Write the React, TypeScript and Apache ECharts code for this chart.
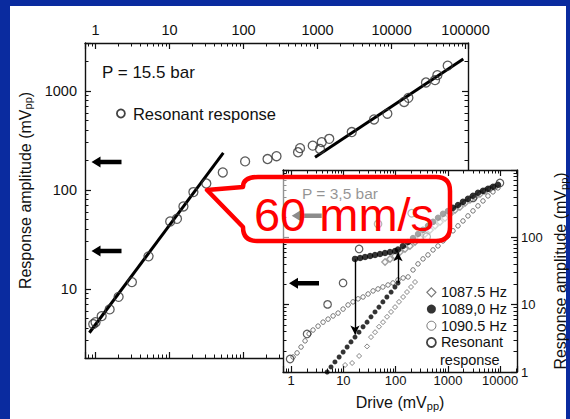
import React, { useEffect, useRef } from "react";
import * as echarts from "echarts";

const FONT = "'Liberation Sans', Arial, Helvetica, sans-serif";

// ---------- Main panel (P = 15.5 bar) ----------
const mainXRange = [0.72, 108000];
const mainYRange = [2, 3050];
const resonantMain: [number, number][] = [
  [0.93, 4.4], [1.0, 4.6], [1.21, 5.3], [1.55, 6.2], [2.05, 8.3], [3.1, 11.7], [5.2, 21.3],
  [10.2, 48], [12.6, 51], [15.4, 68], [21, 95], [31.4, 116], [52.4, 150], [105, 194],
  [211, 205], [279, 219], [545, 240], [580, 264], [861, 280], [1080, 259], [1140, 304],
  [1440, 328], [2900, 384], [5800, 515], [8780, 589], [14800, 774], [16900, 851],
  [29200, 1217], [38700, 1285], [41600, 1444], [57400, 1800],
];
const fitLow: [number, number][] = [[0.825, 3.6], [53.3, 236]];
const fitHigh: [number, number][] = [[925, 214], [93300, 2100]];

// ---------- Inset (P = 3,5 bar) ----------
const insetXRange = [0.7, 21000];
const insetYRange = [1, 1000];
const f1087Lower: [number, number][] = [
  [10.8, 1.27], [14.7, 1.36], [20, 1.73], [28.4, 2.4], [33.8, 3.3], [40.4, 3.9], [48.1, 4.7],
  [57.4, 5.5], [68.5, 6.6], [81.7, 7.8], [97.4, 9.2], [116, 11.0], [139, 13.0], [165, 15.4],
  [197, 18.3], [235, 21.7],
];
const f1087Upper: [number, number][] = [
  [62.7, 43.1], [78.1, 47.8], [97.4, 52.9], [121, 60.7], [151, 67.3], [188, 74.5], [235, 85.4],
  [293, 98], [365, 112], [455, 129], [567, 148], [706, 169], [880, 194], [1097, 223],
  [1367, 255], [1703, 283], [2123, 324], [2646, 360], [3298, 398], [4110, 441], [5122, 489],
  [6383, 524], [7955, 561],
];
const f1089Lower: [number, number][] = [
  [4.9, 1.0], [5.8, 1.19], [6.9, 1.41], [8.3, 1.67], [9.9, 1.98], [11.8, 2.35], [14, 2.8],
  [16.7, 3.3], [19.9, 3.9], [23.8, 4.7], [28.4, 5.5], [33.8, 6.6], [40.3, 7.8], [48, 9.2],
  [57, 11], [68, 13], [82, 15.4], [97, 18.3], [111, 21],
];
const f1089Upper: [number, number][] = [
  [16.7, 47.8], [20.9, 49.3], [26, 51.1], [32.5, 52.8], [40.3, 54.6], [50.2, 56.5], [62.6, 58.5],
  [78, 60.6], [97.3, 62.7], [111, 66], [138, 74.4], [172, 85.1], [215, 97.8], [268, 112],
  [334, 129], [416, 148], [519, 170], [647, 195], [806, 223], [1000, 246], [1250, 274],
  [1560, 302], [1940, 336], [2420, 373], [3020, 414], [3760, 459], [4690, 490], [5850, 525],
  [7290, 563], [9090, 605],
];
const f1090: [number, number][] = [
  [1.09, 1.67], [1.3, 1.92], [1.55, 2.35], [1.85, 2.9], [2.21, 3.7], [2.63, 4.2], [3.28, 4.8],
  [4.09, 5.5], [5.1, 6.1], [6.36, 6.8], [7.92, 7.5], [9.87, 8.6], [12.3, 9.9], [15.3, 11.0],
  [19.1, 12.2], [23.8, 13.0], [29.7, 14.4], [37, 16.0], [46, 17.1], [57, 18.3], [71.5, 19.6],
  [89, 21.0], [111, 23.3], [139, 24.9], [173, 25.8], [215, 32.8], [268, 40.3], [334, 47.8],
  [416, 54.8], [519, 65], [647, 74.5], [806, 88.4], [1004, 105], [1252, 125], [1560, 148],
  [1944, 175], [2423, 208], [3020, 247], [3763, 293], [4690, 347], [5845, 412], [7284, 473],
  [9078, 542],
];
const resonantInset: [number, number][] = [
  [0.957, 1.56], [2.02, 3.67], [4.99, 10.1], [9.87, 21.0], [20.0, 67.2], [46.1, 158],
  [203, 228], [393, 102], [3020, 385], [9910, 643],
];
// hysteresis jumps of the 1089,0 Hz sweep
const jumpDown: [number, number][] = [[16.7, 47], [16.7, 3.6]];
const jumpUp: [number, number][] = [[111, 21], [111, 60]];

const calloutPath =
  "M258 177 H436 Q450 177 450 191 V227 Q450 241 436 241 H257 Q243 241 243 227 L207 190 L243 187 Q243 177 258 177 Z";
let shapesRegistered = false;
function ensureShapes() {
  if (shapesRegistered) return;
  echarts.graphic.registerShape("callout", echarts.graphic.extendPath(calloutPath, {}) as any);
  shapesRegistered = true;
}

const logLabel = (v: number) => {
  const l = Math.log10(v);
  const r = Math.round(l);
  return Math.abs(l - r) < 1e-6 ? String(Math.round(Math.pow(10, r))) : "";
};

function logAxis(extra: any) {
  return {
    type: "log",
    logBase: 10,
    axisLine: { show: true, onZero: false, lineStyle: { color: "#111", width: 1.4 } },
    axisTick: { show: true, inside: true, length: 6, lineStyle: { color: "#111", width: 1.2 } },
    minorTick: { show: true, splitNumber: 9, length: 3.5, lineStyle: { color: "#111", width: 1 } },
    splitLine: { show: false },
    minorSplitLine: { show: false },
    ...extra,
  };
}

function arrow(tipX: number, y: number, tailX: number, color: string, z: number) {
  const hl = 9, hh = 5.5, sh = 2.2;
  return {
    type: "polygon",
    z,
    shape: {
      points: [
        [tipX, y], [tipX + hl, y - hh], [tipX + hl, y - sh], [tailX, y - sh],
        [tailX, y + sh], [tipX + hl, y + sh], [tipX + hl, y + hh],
      ],
    },
    style: { fill: color },
  };
}

export default function App() {
  const ref = useRef<HTMLDivElement>(null);
  useEffect(() => {
    document.body.style.margin = "0";
    ensureShapes();
    const chart = echarts.init(ref.current!, undefined, { renderer: "svg" });
    const lbl = (size: number, margin: number, extra: any = {}) => ({
      show: true, formatter: logLabel, color: "#111", fontSize: size, fontFamily: FONT, margin,
      showMinLabel: true, showMaxLabel: true, ...extra,
    });
    const hidden = { show: false };
    const nameStyle = (pad: number[]) => ({
      fontSize: 16, color: "#111", fontFamily: FONT, padding: pad,
      rich: { s: { fontSize: 11, color: "#111", fontFamily: FONT, verticalAlign: "bottom", padding: [6, 0, 0, 0] } },
    });
    const n1089Low = f1089Lower.length;
    const n1087Low = f1087Lower.length;
    const option: any = {
      animation: false,
      backgroundColor: "#0a2b9f",
      grid: [
        { left: 85, top: 43, width: 383, height: 315, show: false },
        { left: 283, top: 170, width: 234, height: 202, show: false },
      ],
      xAxis: [
        logAxis({ gridIndex: 0, position: "top", min: mainXRange[0], max: mainXRange[1], axisLabel: lbl(14.5, 6), z: 0 }),
        logAxis({ gridIndex: 0, position: "bottom", min: mainXRange[0], max: mainXRange[1], axisLabel: hidden, z: 0 }),
        logAxis({
          gridIndex: 1, position: "bottom", min: insetXRange[0], max: insetXRange[1], axisLabel: lbl(13, 2), z: 3,
          name: "Drive (mV{s|pp})", nameLocation: "middle", nameGap: 22, nameTextStyle: nameStyle([0, 0, 0, 0]),
        }),
        logAxis({ gridIndex: 1, position: "top", min: insetXRange[0], max: insetXRange[1], axisLabel: hidden, z: 3 }),
      ],
      yAxis: [
        logAxis({
          gridIndex: 0, position: "left", min: mainYRange[0], max: mainYRange[1], axisLabel: lbl(14.5, 8), z: 0,
          name: "Response amplitude (mV{s|pp})", nameLocation: "middle", nameGap: 49, nameTextStyle: nameStyle([0, 0, 0, 20]),
        }),
        logAxis({ gridIndex: 0, position: "right", min: mainYRange[0], max: mainYRange[1], axisLabel: hidden, z: 0 }),
        logAxis({
          gridIndex: 1, position: "right", min: insetYRange[0], max: insetYRange[1], axisLabel: lbl(13, 4, { showMaxLabel: false }), z: 3,
          name: "Response amplitude (mV{s|pp})", nameLocation: "middle", nameGap: 35, nameTextStyle: nameStyle([0, 0, 0, 0]),
        }),
        logAxis({ gridIndex: 1, position: "left", min: insetYRange[0], max: insetYRange[1], axisLabel: hidden, z: 3 }),
      ],
      legend: [
        {
          orient: "vertical", left: 111, top: 100, itemWidth: 8, itemHeight: 8, selectedMode: false,
          data: [{ name: "Resonant response", icon: "circle", itemStyle: { color: "#fff", borderColor: "#111", borderWidth: 1.8 } }],
          textStyle: { fontSize: 16.5, color: "#111", fontFamily: FONT, padding: [0, 0, 0, 3] },
        },
        {
          orient: "vertical", left: 421, top: 279, itemWidth: 9, itemHeight: 9, itemGap: 0, selectedMode: false,
          data: [
            { name: "1087.5 Hz", icon: "diamond", itemStyle: { color: "#fff", borderColor: "#555", borderWidth: 1.2 } },
            { name: "1089,0 Hz", icon: "circle", itemStyle: { color: "#000", borderWidth: 0 } },
            { name: "1090.5 Hz", icon: "circle", itemStyle: { color: "#fff", borderColor: "#555", borderWidth: 1 } },
            { name: "Resonant", icon: "circle", itemStyle: { color: "#fff", borderColor: "#111", borderWidth: 1.8 } },
          ],
          textStyle: { fontSize: 14.5, color: "#111", fontFamily: FONT, lineHeight: 16.7 },
        },
      ],
      series: [
        {
          type: "line", name: "fit low", xAxisIndex: 0, yAxisIndex: 0, data: fitLow, showSymbol: false,
          lineStyle: { color: "#000", width: 3 }, z: 2,
        },
        {
          type: "line", name: "fit high", xAxisIndex: 0, yAxisIndex: 0, data: fitHigh, showSymbol: false,
          lineStyle: { color: "#000", width: 3 }, z: 2,
        },
        {
          type: "scatter", name: "Resonant response", xAxisIndex: 0, yAxisIndex: 0, data: resonantMain,
          symbol: "circle", symbolSize: 9, itemStyle: { color: "transparent", borderColor: "#333", borderWidth: 1.3 }, z: 3,
        },
        {
          type: "scatter", name: "1087.5 Hz", xAxisIndex: 2, yAxisIndex: 2,
          data: [...f1087Lower, ...f1087Upper].map((v, i) =>
            i < n1087Low ? v : { value: v, itemStyle: { borderColor: "#8a8a8a", borderWidth: 1.4 } }),
          symbol: "diamond", symbolSize: (_v: any, p: any) => (p.dataIndex < n1087Low ? 5 : 6.5),
          itemStyle: { color: "transparent", borderColor: "#555", borderWidth: 0.9 }, z: 4,
        },
        {
          type: "scatter", name: "1090.5 Hz", xAxisIndex: 2, yAxisIndex: 2, data: f1090,
          symbol: "circle", symbolSize: 4.5, itemStyle: { color: "transparent", borderColor: "#444", borderWidth: 0.9 }, z: 4,
        },
        {
          type: "scatter", name: "1089,0 Hz", xAxisIndex: 2, yAxisIndex: 2, data: [...f1089Lower, ...f1089Upper],
          symbol: "circle", symbolSize: (_v: any, p: any) => (p.dataIndex < n1089Low ? 5 : 6.5),
          itemStyle: { color: "#000" }, z: 5,
          markLine: {
            silent: true, symbol: ["none", "arrow"], symbolSize: [7, 9], label: { show: false },
            lineStyle: { color: "#000", width: 1.4, type: "solid" },
            data: [
              [{ coord: jumpDown[0] }, { coord: jumpDown[1] }],
              [{ coord: jumpUp[0] }, { coord: jumpUp[1] }],
            ],
          },
        },
        {
          type: "scatter", name: "Resonant", xAxisIndex: 2, yAxisIndex: 2, data: resonantInset,
          symbol: "circle", symbolSize: 7.5, itemStyle: { color: "transparent", borderColor: "#333", borderWidth: 1.2 }, z: 5,
        },
      ],
      graphic: [
        { type: "rect", z: -10, shape: { x: 10, y: 6, width: 556, height: 413 }, style: { fill: "#fff" } },
        { type: "rect", z: 1, shape: { x: 283, y: 170, width: 234, height: 202 }, style: { fill: "#fff" } },
        { type: "text", z: 5, x: 102, y: 72, style: { text: "P = 15.5 bar", fontSize: 17, fontFamily: FONT, fill: "#111", verticalAlign: "middle" } },
        { type: "text", z: 5, x: 302, y: 193, style: { text: "P = 3,5 bar", fontSize: 15.5, fontFamily: FONT, fill: "#111", verticalAlign: "middle" } },
        { type: "text", z: 5, x: 440, y: 359.5, style: { text: "response", fontSize: 14.5, fontFamily: FONT, fill: "#111", verticalAlign: "middle" } },
        arrow(91.5, 162, 121.5, "#000", 5),
        arrow(91.5, 251, 121.5, "#000", 5),
        arrow(289, 283.3, 319, "#000", 6),
        arrow(291.7, 215.7, 321.7, "#000", 6),
        {
          type: "callout", z: 10, x: 0, y: 0, scaleX: 1, scaleY: 1,
          style: { fill: "rgba(255,255,255,0.55)", stroke: "#ff0000", lineWidth: 4.5, lineJoin: "round" },
        },
        {
          type: "text", z: 11, x: 344, y: 214,
          style: { text: "60 mm/s", fontSize: 47, fontFamily: FONT, fill: "#ff0000", align: "center", verticalAlign: "middle" },
        },
      ],
    };
    chart.setOption(option);
    return () => chart.dispose();
  }, []);
  return <div ref={ref} style={{ width: 570, height: 419 }} />;
}
